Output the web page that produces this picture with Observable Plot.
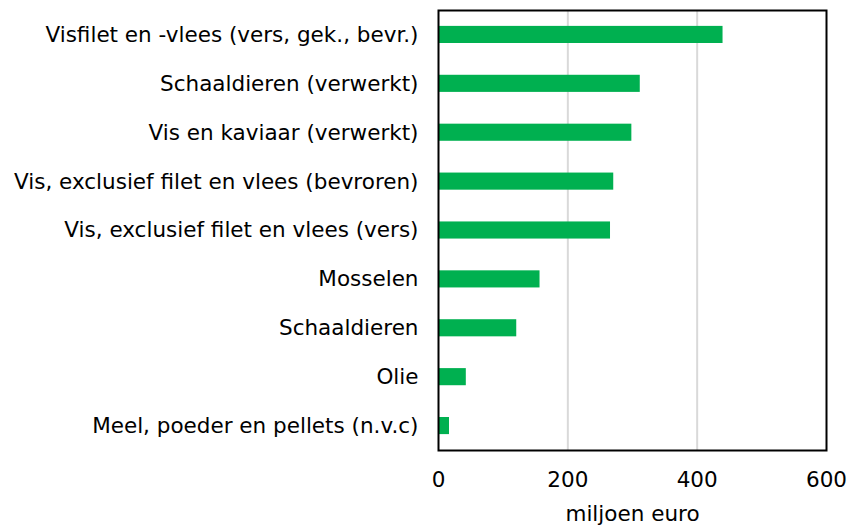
<!DOCTYPE html>
<html>
<head>
<meta charset="utf-8">
<script src="https://cdn.jsdelivr.net/npm/d3@7"></script>
<script src="https://cdn.jsdelivr.net/npm/@observablehq/plot@0.6"></script>
<style>
  html, body { margin: 0; padding: 0; background: #fff; }
  #chart svg { display: block; }
</style>
</head>
<body>
<div id="chart"></div>
<script>
const categories = [
  "Visfilet en -vlees (vers, gek., bevr.)",
  "Schaaldieren (verwerkt)",
  "Vis en kaviaar (verwerkt)",
  "Vis, exclusief filet en vlees (bevroren)",
  "Vis, exclusief filet en vlees (vers)",
  "Mosselen",
  "Schaaldieren",
  "Olie",
  "Meel, poeder en pellets (n.v.c)"
];
const values = [440, 312, 299, 271, 266, 157, 121, 43, 17];
const xTicks = [0, 200, 400, 600];
const gridTicks = [200, 400];
const xLabel = "miljoen euro";

const data = categories.map((c, i) => ({category: c, value: values[i]}));

const chart = Plot.plot({
  width: 848,
  height: 528,
  marginLeft: 438,
  marginRight: 22,
  marginTop: 10,
  marginBottom: 78,
  style: {fontFamily: "'DejaVu Sans', Verdana, sans-serif", fontSize: "21.5px", color: "#000", background: "#fff"},
  x: {domain: [0, 600]},
  y: {domain: categories, paddingInner: 0.65, paddingOuter: 0.325, round: false},
  marks: [
    Plot.ruleX(gridTicks, {stroke: "#d9d9d9", strokeWidth: 2}),
    Plot.barX(data, {y: "category", x: "value", fill: "#00b050"}),
    Plot.frame({stroke: "#000", strokeWidth: 2}),
    Plot.axisX(xTicks, {tickSize: 0, tickPadding: 21, fontSize: 21.5, label: xLabel, labelAnchor: "center", labelArrow: "none", labelOffset: 70}),
    Plot.axisY({tickSize: 0, tickPadding: 20, fontSize: 21.5, label: null})
  ]
});
document.getElementById("chart").appendChild(chart);
</script>
</body>
</html>
